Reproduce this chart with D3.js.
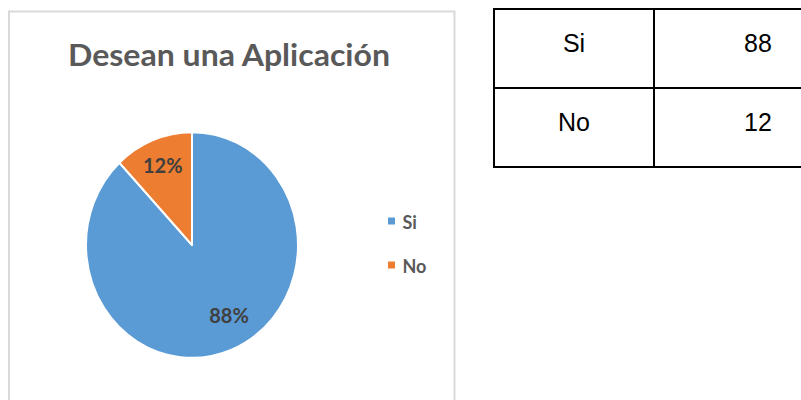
<!DOCTYPE html>
<html><head><meta charset="utf-8">
<script src="https://cdn.jsdelivr.net/npm/d3@7"></script>
<style>html,body{margin:0;padding:0;background:#fff;overflow:hidden}</style>
</head><body>
<svg id="c" width="801" height="400"></svg>
<script>
const categories = ["Si", "No"];
const values = [88, 12];
const colors = ["#5B9BD5", "#ED7D31"];
const title = "Desean una Aplicación";

const svg = d3.select("#c");
// chart frame
svg.append("rect").attr("x", 9).attr("y", 11.5).attr("width", 445.5).attr("height", 420)
  .attr("fill", "#fff").attr("stroke", "#d9d9d9").attr("stroke-width", 2);

svg.append("text").attr("x", 68).attr("y", 66)
  .attr("font-family", "Lato").attr("font-weight", "bold").attr("font-size", 31)
  .attr("fill", "#595959").attr("textLength", 322).attr("lengthAdjust", "spacingAndGlyphs")
  .text(title);

const total = d3.sum(values);
const data = categories.map((c, i) => ({cat: c, value: values[i], color: colors[i]}));
const pie = d3.pie().sort(null).value(d => d.value);
const arcs = pie(data);
const r = 106;
const arc = d3.arc().innerRadius(0).outerRadius(r);
const g = svg.append("g").attr("transform", "translate(192,245) scale(1,1.065)");
g.selectAll("path").data(arcs).join("path")
  .attr("d", arc).attr("fill", d => d.data.color)
  .attr("stroke", "#fff").attr("stroke-width", 2).attr("stroke-linejoin", "round");

// labels
const fmt = d => Math.round(d.value / total * 100) + "%";
const lbl = svg.append("g").attr("transform", "translate(192,245)");
arcs.forEach((d, i) => {
  let a = (d.startAngle + d.endAngle) / 2;
  let rr = 0.75 * r;
  if (i === 0) { a = a - 0.13; rr = 0.72 * r; }
  const x = Math.sin(a) * rr, y = -Math.cos(a) * rr * 1.065;
  lbl.append("text").attr("x", x).attr("y", y + 7)
    .attr("text-anchor", "middle")
    .attr("font-family", "Lato").attr("font-weight", "bold").attr("font-size", 20)
    .attr("fill", "#404040").text(fmt(d.data));
});

// legend
const leg = svg.append("g");
const legY = d3.scalePoint().domain(categories).range([229, 273]);
categories.forEach((c, i) => {
  leg.append("rect").attr("x", 388).attr("y", legY(c) - 11.5).attr("width", 7).attr("height", 7)
    .attr("fill", colors[i]);
  leg.append("text").attr("x", 402.5).attr("y", legY(c))
    .attr("font-family", "Lato").attr("font-weight", "bold").attr("font-size", 18)
    .attr("fill", "#595959").text(c);
});

// table
const tx0 = 494, tx1 = 654, tx2 = 862, ty0 = 9;
const rowH = 79;
const tbl = svg.append("g");
const rowY = d3.scaleBand().domain(categories).range([ty0, ty0 + rowH * categories.length]);
categories.forEach((c, i) => {
  const y = rowY(c);
  tbl.append("rect").attr("x", tx0).attr("y", y).attr("width", tx1 - tx0).attr("height", rowY.bandwidth())
    .attr("fill", "none").attr("stroke", "#000").attr("stroke-width", 2);
  tbl.append("rect").attr("x", tx1).attr("y", y).attr("width", tx2 - tx1).attr("height", rowY.bandwidth())
    .attr("fill", "none").attr("stroke", "#000").attr("stroke-width", 2);
  tbl.append("text").attr("x", (tx0 + tx1) / 2).attr("y", y + 43)
    .attr("text-anchor", "middle").attr("font-family", "Liberation Sans").attr("font-size", 25)
    .attr("fill", "#000").text(c);
  tbl.append("text").attr("x", (tx1 + tx2) / 2).attr("y", y + 43)
    .attr("text-anchor", "middle").attr("font-family", "Liberation Sans").attr("font-size", 25)
    .attr("fill", "#000").text(values[i]);
});
</script>
</body></html>
